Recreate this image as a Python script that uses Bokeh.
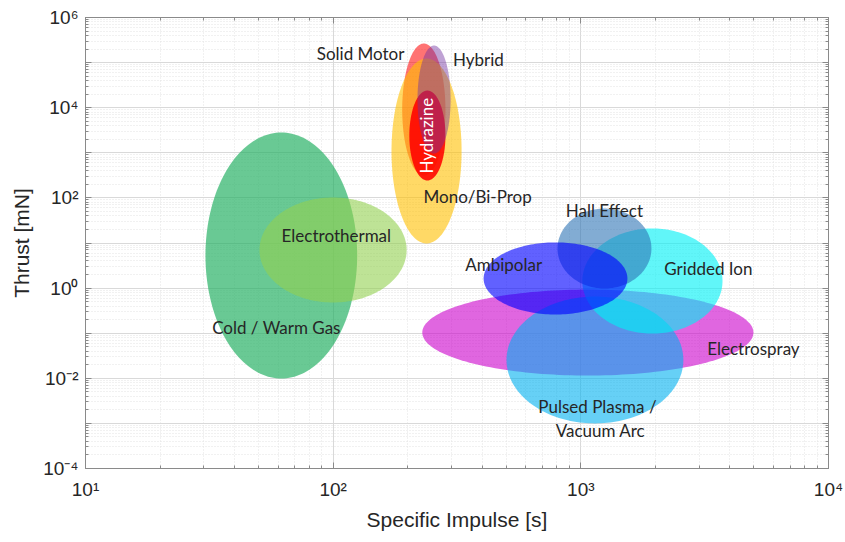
import numpy as np
from bokeh.plotting import figure
from bokeh.models import FixedTicker, LogAxis, ColumnDataSource, Range1d
from bokeh.core.properties import value
from bokeh.embed import file_html
from bokeh.resources import INLINE

# ---- data: thruster families, ranges of specific impulse [s] and thrust [mN]
names = ["Cold / Warm Gas", "Electrothermal", "Solid Motor", "Mono/Bi-Prop", "Hydrazine", "Hybrid",
         "Electrospray", "Pulsed Plasma / Vacuum Arc", "Gridded Ion", "Hall Effect", "Ambipolar"]
isp_min = [30.5, 50.4, 190.0, 172.0, 203.0, 219.0, 229.0, 501.0, 1014.0, 805.0, 405.0]
isp_max = [125.0, 198.0, 284.0, 330.0, 284.0, 298.0, 4977.0, 2594.0, 3733.0, 1928.0, 1542.0]
thrust_min = [0.0099, 0.48, 314.0, 9.75, 243.0, 964.0, 0.0115, 0.001, 0.098, 0.98, 0.26]
thrust_max = [2818.0, 102.0, 2.65e5, 1.23e5, 2.4e4, 2.39e5, 0.93, 0.65, 21.0, 58.0, 10.3]
fill_colors = ["#22b062", "#92d050", "#ff0000", "#ffc000", "#ff0000", "#7030a0",
               "#cc00cc", "#00b0f0", "#00f0f5", "#2e75b6", "#0000ff"]
fill_alphas = [0.68, 0.6, 0.55, 0.6, 0.88, 0.45, 0.6, 0.6, 0.62, 0.6, 0.62]

# ---- text labels
label_text = ["Solid Motor", "Hybrid", "Mono/Bi-Prop", "Electrothermal", "Cold / Warm Gas",
              "Hall Effect", "Ambipolar", "Gridded Ion", "Electrospray", "Pulsed Plasma /", "Vacuum Arc"]
label_isp = [129, 386, 383, 103, 59, 1245, 488, 3273, 4977, 1167, 1200]
label_thrust = [10**5.20, 10**5.07, 10**2.03, 10**1.166, 10**-0.874, 10**1.72, 10**0.523,
                10**0.435, 10**-1.34, 10**-2.625, 10**-3.157]
hydrazine_isp = [238]
hydrazine_thrust = [10**3.38]

# ---- ticks
x_exps = [1, 2, 3, 4]
y_exps = [-4, -3, -2, -1, 0, 1, 2, 3, 4, 5, 6]
sup = str.maketrans("-0123456789", "⁻⁰¹²³⁴⁵⁶⁷⁸⁹")

x_major = [10.0**e for e in x_exps]
x_minor = [m * 10.0**e for e in x_exps[:-1] for m in range(2, 10)]
y_major = [10.0**e for e in y_exps]
y_minor = [m * 10.0**e for e in y_exps[:-1] for m in range(2, 10)]
x_labels = {10.0**e: "10" + str(e).translate(sup) for e in x_exps}
y_labels = {10.0**e: ("10" + str(e).translate(sup)) if e % 2 == 0 else "" for e in y_exps}
x_blank = {v: "" for v in x_major}
y_blank = {v: "" for v in y_major}

p = figure(width=845, height=542, x_axis_type="log", y_axis_type="log",
           x_range=Range1d(10, 1e4), y_range=Range1d(1e-4, 1e6),
           output_backend="svg", toolbar_location=None,
           min_border_left=85, min_border_right=17, min_border_top=17, min_border_bottom=74)
p.background_fill_color = "white"
p.border_fill_color = "white"
p.outline_line_color = "#8a8a8a"
p.outline_line_width = 1

# ellipses (in log-log space) built from the ranges
t = np.linspace(0, 2 * np.pi, 181)
xs, ys = [], []
for a, b, c, d in zip(isp_min, isp_max, thrust_min, thrust_max):
    lx0, lx1 = np.log10(a), np.log10(b)
    ly0, ly1 = np.log10(c), np.log10(d)
    cx, hx = (lx0 + lx1) / 2, (lx1 - lx0) / 2
    cy, hy = (ly0 + ly1) / 2, (ly1 - ly0) / 2
    xs.append(list(10 ** (cx + hx * np.cos(t))))
    ys.append(list(10 ** (cy + hy * np.sin(t))))

src = ColumnDataSource(dict(xs=xs, ys=ys, color=fill_colors, alpha=fill_alphas))
p.patches("xs", "ys", source=src, fill_color="color", fill_alpha="alpha", line_color=None)

p.text(x=label_isp, y=label_thrust, text=label_text, text_font=value("Lato"),
       text_font_size="17px", text_color="#262626", text_align="center", text_baseline="middle")
p.text(x=hydrazine_isp, y=hydrazine_thrust, text=["Hydrazine"], text_font=value("Lato"),
       text_font_size="17px", text_color="white", text_align="center", text_baseline="middle",
       angle=np.pi / 2)

def style_axis(ax, ticker, labels, show):
    ax.ticker = ticker
    ax.axis_line_color = "#8a8a8a"
    ax.major_tick_line_color = "#8a8a8a"
    ax.minor_tick_line_color = "#8a8a8a"
    ax.major_tick_in = 6
    ax.major_tick_out = 0
    ax.minor_tick_in = 3
    ax.minor_tick_out = 0
    ax.major_label_overrides = labels
    if show:
        ax.major_label_text_font = "Liberation Sans"
        ax.major_label_text_font_size = "19px"
        ax.major_label_text_color = "#262626"
        ax.axis_label_text_font = "Liberation Sans"
        ax.axis_label_text_font_size = "21px"
        ax.axis_label_text_font_style = "normal"
        ax.axis_label_text_color = "#262626"
    else:
        ax.major_label_text_font_size = "1px"
        ax.major_label_standoff = 0

xt = FixedTicker(ticks=x_major, minor_ticks=x_minor)
yt = FixedTicker(ticks=y_major, minor_ticks=y_minor)

style_axis(p.xaxis[0], xt, x_labels, True)
style_axis(p.yaxis[0], yt, y_labels, True)
p.xaxis.axis_label = "Specific Impulse [s]"
p.yaxis.axis_label = "Thrust [mN]"
p.xaxis.major_label_standoff = 10
p.yaxis.major_label_standoff = 7
p.xaxis.axis_label_standoff = 5
p.yaxis.axis_label_standoff = 7

top = LogAxis()
right = LogAxis()
style_axis(top, xt, x_blank, False)
style_axis(right, yt, y_blank, False)
p.add_layout(top, "above")
p.add_layout(right, "right")

for g in (p.xgrid[0], p.ygrid[0]):
    g.grid_line_color = "#d9d9d9"
    g.grid_line_width = 1
    g.minor_grid_line_color = "#e3e3e3"
    g.minor_grid_line_dash = "1 2"
p.xgrid[0].ticker = xt
p.ygrid[0].ticker = yt

open("out.html", "w").write(file_html(p, INLINE))
